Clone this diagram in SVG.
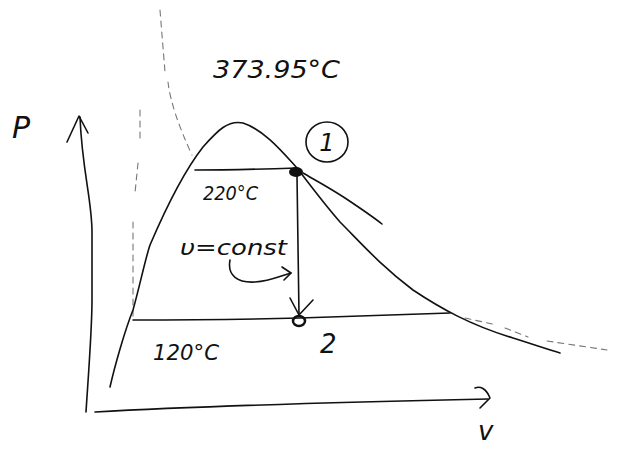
<svg xmlns="http://www.w3.org/2000/svg" width="618" height="452" viewBox="0 0 618 452">
<style>
.ln{fill:none;stroke:#111;stroke-width:1.6;stroke-linecap:round;stroke-linejoin:round}
.fa{fill:none;stroke:#777;stroke-width:1.1;stroke-dasharray:6 5;stroke-linecap:round}
.tx{font-family:"DejaVu Sans","Liberation Sans",sans-serif;font-style:italic;fill:#111}
</style>
<rect width="618" height="452" fill="#fff"/>
<g id="axes">
<path class="ln" d="M86,412 C88,380 92,330 92,300 L92,232 C92,200 82,170 80,117"/>
<path class="ln" d="M67,142 L79,116 L88,133"/>
<path class="ln" d="M95,412 C200,406 350,402 488,399"/>
<path class="ln" d="M475,388 C480,386 486,388 490,398 L480,408"/>
<text class="tx" x="12" y="138" font-size="30">P</text>
<text class="tx" x="478" y="440" font-size="26">v</text>
</g>
<g id="critical-lines">
<path class="fa" d="M160,10 L165,72 M168,82 C170,100 178,125 192,155"/>
<path class="fa" d="M140,110 L140,142 M138,163 L135,193 M133,222 L133,317"/>
<path class="fa" d="M465,318 L497,325 M505,328 L528,337 M547,341 L607,350"/>
</g>
<g id="dome">
<path class="ln" d="M110,387 C115,365 125,330 133,310 C140,285 145,260 150,245 C165,210 185,170 203,147 C218,130 228,120 243,123 C265,130 285,155 297,168 C310,185 325,205 340,222 C360,242 380,265 413,290 C440,308 470,325 513,338 C535,345 550,350 560,353"/>
<path class="ln" d="M303,173 C315,180 330,188 345,198 C360,208 372,216 382,224" stroke="#555" stroke-width="1.2"/>
<text class="tx" x="213" y="78" font-size="24" textLength="127" lengthAdjust="spacingAndGlyphs">373.95°C</text>
</g>
<g id="isotherm-220">
<path class="ln" d="M195,170 C230,170 265,169 297,168"/>
<text class="tx" x="203" y="200" font-size="19" textLength="55" lengthAdjust="spacingAndGlyphs">220°C</text>
</g>
<g id="isotherm-120">
<path class="ln" d="M133,320 C200,320 260,319 300,318 C360,316 410,314 450,313"/>
<text class="tx" x="153" y="360" font-size="22" textLength="66" lengthAdjust="spacingAndGlyphs">120°C</text>
</g>
<g id="state-1">
<ellipse cx="296" cy="172" rx="7" ry="5" fill="#111"/>
<ellipse cx="327" cy="142" rx="21" ry="20" class="ln"/>
<text class="tx" x="327" y="151" font-size="24" text-anchor="middle">1</text>
</g>
<g id="state-2">
<ellipse cx="299" cy="321" rx="6" ry="5" fill="none" stroke="#111" stroke-width="2.5"/>
<text class="tx" x="320" y="353" font-size="26">2</text>
</g>
<g id="connectors">
<path class="ln" d="M297,176 L299,315"/>
<path class="ln" d="M290,298 L299,315 L313,300"/>
<path class="ln" d="M230,260 C227,276 238,283 255,282 C270,281 280,276 291,273"/>
<path class="ln" d="M282,267 L291,273 L284,280"/>
<text class="tx" x="180" y="255" font-size="22" textLength="107" lengthAdjust="spacingAndGlyphs">υ=const</text>
</g>
</svg>
